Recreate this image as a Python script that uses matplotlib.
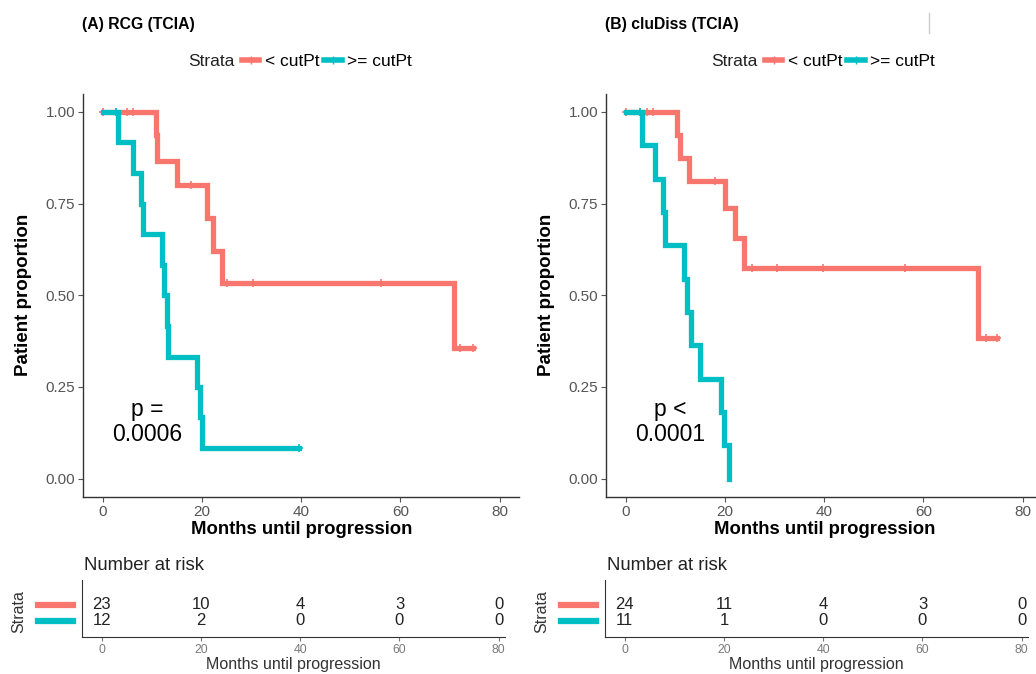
import numpy as np
import matplotlib.pyplot as plt
from matplotlib.lines import Line2D

plt.rcParams['font.family'] = ['Liberation Sans', 'DejaVu Sans']

RED = '#F8766D'
TEAL = '#00BFC4'

# (A) RCG (TCIA) - step curves (time, survival after the step)
a_low_t = [0, 10.7, 11.0, 15.0, 20.9, 22.2, 24.0, 70.8, 74.7]
a_low_s = [1.0, 0.9375, 0.866, 0.80, 0.71, 0.621, 0.533, 0.355, 0.355]
a_low_cens = [0, 2.6, 4.9, 6.0, 17.7, 25.0, 30.2, 56.0, 72.0, 74.7]
a_high_t = [0, 3.0, 6.0, 7.6, 8.0, 11.9, 12.3, 12.9, 13.2, 19.0, 19.6, 20.0, 39.5]
a_high_s = [1.0, 0.917, 0.833, 0.75, 0.667, 0.583, 0.5, 0.417, 0.333, 0.25, 0.167, 0.083, 0.083]
a_high_cens = [2.6, 39.5]
a_risk_low = [23, 10, 4, 3, 0]
a_risk_high = [12, 2, 0, 0, 0]

# (B) cluDiss (TCIA)
b_low_t = [0, 10.4, 10.9, 12.8, 20.0, 22.0, 23.8, 71.0, 74.9]
b_low_s = [1.0, 0.9375, 0.875, 0.8125, 0.738, 0.656, 0.574, 0.383, 0.383]
b_low_cens = [0, 2.8, 4.2, 5.4, 18.0, 25.4, 30.4, 39.7, 56.3, 72.6, 74.9]
b_high_t = [0, 3.2, 5.9, 7.5, 7.9, 11.7, 12.3, 13.2, 15.0, 19.1, 19.8, 20.8]
b_high_s = [1.0, 0.909, 0.818, 0.727, 0.636, 0.545, 0.455, 0.364, 0.273, 0.182, 0.091, 0.0]
b_high_cens = [2.8]
b_risk_low = [24, 11, 4, 3, 0]
b_risk_high = [11, 1, 0, 0, 0]

risk_times = [0, 20, 40, 60, 80]

W, H = 1036, 674
fig = plt.figure(figsize=(W / 100, H / 100), dpi=100)


def fx(px):
    return px / W


def fy(py):
    return 1 - py / H


def surv_at(times, surv, t):
    idx = np.searchsorted(times, t, side='right') - 1
    return np.array(surv)[idx]


def km_panel(x0, title, low, high, ptext, risk_low, risk_high):
    # main KM axes: x from -4 to 84 (88 months * 4.96 px)
    ax = fig.add_axes([fx(x0), fy(497), fx(88 * 4.96), fy(93.6) - fy(497)])
    for (t, s, c), col in zip([low, high], [RED, TEAL]):
        ax.step(t, s, where='post', color=col, lw=3.8, solid_joinstyle='miter')
        ax.plot(c, surv_at(t, s, c), '+', color=col, ms=6, mew=1.2)
    ax.set_xlim(-4, 84)
    ax.set_ylim(-0.05, 1.05)
    ax.set_xticks([0, 20, 40, 60, 80])
    ax.set_yticks([0, 0.25, 0.5, 0.75, 1.0])
    ax.set_yticklabels(['0.00', '0.25', '0.50', '0.75', '1.00'])
    for sp in ['top', 'right']:
        ax.spines[sp].set_visible(False)
    for sp in ['left', 'bottom']:
        ax.spines[sp].set_color('#333333')
        ax.spines[sp].set_linewidth(1.0)
    ax.tick_params(colors='#555555', labelsize=11, length=3.5, width=0.8, pad=2)
    ax.set_xlabel('Months until progression', fontsize=13.3, fontweight='bold', labelpad=2)
    ax.set_ylabel('Patient proportion', fontsize=13.5, fontweight='bold', labelpad=10)
    ax.text(9.0, 0.155, ptext, fontsize=16.5, ha='center', va='center', linespacing=1.1)

    # risk table
    rx = fig.add_axes([fx(x0 - 1), fy(636.7), fx(85.2 * 4.96), fy(580) - fy(636.7)])
    rx.set_xlim(-4, 81.2)
    rx.set_ylim(-0.03, 3.6)
    for xv, n in zip(risk_times, risk_low):
        rx.text(xv, 2, str(n), ha='center', va='center', fontsize=12, color='#222222')
    for xv, n in zip(risk_times, risk_high):
        rx.text(xv, 1, str(n), ha='center', va='center', fontsize=12, color='#222222')
    rx.set_xticks(risk_times)
    rx.set_yticks([])
    for sp in ['top', 'right']:
        rx.spines[sp].set_visible(False)
    for sp in ['left', 'bottom']:
        rx.spines[sp].set_color('#333333')
    rx.tick_params(colors='#7a7a7a', labelsize=8.8, length=3, width=0.8, pad=2)
    rx.set_xlabel('Months until progression', fontsize=11.5, color='#333333', labelpad=1)
    fig.text(fx(x0 + 1), fy(566), 'Number at risk', fontsize=13.3, color='#222222', va='center')
    fig.text(fx(x0 - 64), fy(612), 'Strata', fontsize=11.5, color='#333333',
             rotation=90, ha='center', va='center')
    fig.add_artist(Line2D([fx(x0 - 45), fx(x0 - 10)], [fy(605), fy(605)], color=RED, lw=4.5))
    fig.add_artist(Line2D([fx(x0 - 45), fx(x0 - 10)], [fy(621), fy(621)], color=TEAL, lw=4.5))

    # title and legend
    fig.text(fx(x0 - 1), fy(25), title, fontsize=11.3, fontweight='bold', va='center')
    fig.text(fx(x0 + 105), fy(61), 'Strata', fontsize=12.5, color='#222222', va='center')
    handles = [Line2D([], [], color=RED, lw=4, marker='+', ms=6),
               Line2D([], [], color=TEAL, lw=4, marker='+', ms=6)]
    fig.legend(handles, ['< cutPt', '>= cutPt'], ncol=2, frameon=False,
               loc='center left', bbox_to_anchor=(fx(x0 + 159), fy(61)),
               fontsize=12.5, handlelength=1.0, handletextpad=0.3,
               columnspacing=0.3, borderaxespad=0, borderpad=0)
    return ax


km_panel(83, '(A) RCG (TCIA)',
         (a_low_t, a_low_s, a_low_cens), (a_high_t, a_high_s, a_high_cens),
         'p =\n0.0006', a_risk_low, a_risk_high)
km_panel(606, '(B) cluDiss (TCIA)',
         (b_low_t, b_low_s, b_low_cens), (b_high_t, b_high_s, b_high_cens),
         'p <\n0.0001', b_risk_low, b_risk_high)

# small stray mark at top right of the original figure
fig.add_artist(Line2D([fx(929), fx(929)], [fy(13), fy(33)], color='#cccccc', lw=1))

fig.savefig('out.png', dpi=100)
